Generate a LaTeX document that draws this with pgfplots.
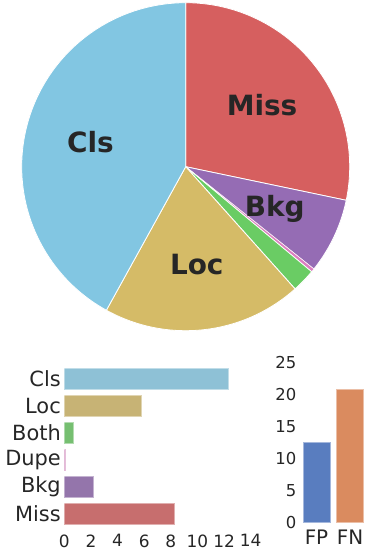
\documentclass[border=0pt]{standalone}
\usepackage{pgfplots}
\pgfplotsset{compat=1.18}
\usepackage{fontspec}
\setmainfont{DejaVu Sans}
\definecolor{txt}{HTML}{262626}
% pie colours (seaborn muted)
\definecolor{pCls}{HTML}{82C6E2}
\definecolor{pLoc}{HTML}{D5BB67}
\definecolor{pBoth}{HTML}{6ACC64}
\definecolor{pDupe}{HTML}{DC7EC0}
\definecolor{pBkg}{HTML}{956CB4}
\definecolor{pMiss}{HTML}{D65F5F}
% bar colours (desaturated)
\definecolor{bCls}{HTML}{8EC1D6}
\definecolor{bLoc}{HTML}{C7B375}
\definecolor{bBoth}{HTML}{76BF71}
\definecolor{bDupe}{HTML}{D08ABB}
\definecolor{bBkg}{HTML}{9475AB}
\definecolor{bMiss}{HTML}{C76E6E}
\definecolor{bFP}{HTML}{597DBF}
\definecolor{bFN}{HTML}{DA8B5F}
% data
\def\vCls{12.3}
\def\vLoc{5.76}
\def\vBoth{0.68}
\def\vDupe{0.1}
\def\vBkg{2.18}
\def\vMiss{8.29}
\def\vFP{12.46}
\def\vFN{20.8}
\pgfmathsetmacro\tot{\vCls+\vLoc+\vBoth+\vDupe+\vBkg+\vMiss}
\pgfmathsetmacro\aA{90}
\pgfmathsetmacro\aB{\aA-360*\vMiss/\tot}
\pgfmathsetmacro\aC{\aB-360*\vBkg/\tot}
\pgfmathsetmacro\aD{\aC-360*\vDupe/\tot}
\pgfmathsetmacro\aE{\aD-360*\vBoth/\tot}
\pgfmathsetmacro\aF{\aE-360*\vLoc/\tot}
\pgfmathsetmacro\aG{\aF-360*\vCls/\tot}
\pgfmathsetmacro\mMiss{(\aA+\aB)/2}
\pgfmathsetmacro\mBkg{(\aB+\aC)/2}
\pgfmathsetmacro\mLoc{(\aE+\aF)/2}
\pgfmathsetmacro\mCls{(\aF+\aG)/2}
\begin{document}
\begin{tikzpicture}
\path[use as bounding box] (0bp,0bp) rectangle (369bp,552bp);
% ---------------- pie ----------------
\begin{axis}[
  at={(21.7bp,221.3bp)}, anchor=south west,
  width=328bp, height=328bp, scale only axis,
  xmin=-1, xmax=1, ymin=-1, ymax=1,
  hide axis, clip=false,
]
\addplot[fill=pMiss, draw=white, line width=0.8bp, domain=\aB:\aA, samples=80] ({cos(x)},{sin(x)}) -- (0,0) -- cycle;
\addplot[fill=pBkg, draw=white, line width=0.8bp, domain=\aC:\aB, samples=40] ({cos(x)},{sin(x)}) -- (0,0) -- cycle;
\addplot[fill=pDupe, draw=white, line width=0.4bp, domain=\aD:\aC, samples=5] ({cos(x)},{sin(x)}) -- (0,0) -- cycle;
\addplot[fill=pBoth, draw=white, line width=0.8bp, domain=\aE:\aD, samples=10] ({cos(x)},{sin(x)}) -- (0,0) -- cycle;
\addplot[fill=pLoc, draw=white, line width=0.8bp, domain=\aF:\aE, samples=60] ({cos(x)},{sin(x)}) -- (0,0) -- cycle;
\addplot[fill=pCls, draw=white, line width=0.8bp, domain=\aG:\aF, samples=120] ({cos(x)},{sin(x)}) -- (0,0) -- cycle;
\tikzset{plab/.style={text=txt, font=\bfseries\fontsize{28}{30}\selectfont}}
\node[plab] at ({0.6*cos(\mMiss)},{0.6*sin(\mMiss)}) {Miss};
\node[plab] at ({0.6*cos(\mBkg)},{0.6*sin(\mBkg)}) {Bkg};
\node[plab] at ({0.6*cos(\mLoc)},{0.6*sin(\mLoc)}) {Loc};
\node[plab] at ({0.6*cos(\mCls)},{0.6*sin(\mCls)}) {Cls};
\end{axis}
% ---------------- horizontal bars ----------------
\begin{axis}[
  at={(64.3bp,24.5bp)}, anchor=south west,
  width=186.4bp, height=162bp, scale only axis,
  xmin=0, xmax=14, ymin=-0.5, ymax=5.5, y dir=reverse,
  axis line style={draw=none}, major tick length=0pt,
  xtick={0,2,...,14}, ytick={0,1,2,3,4,5},
  yticklabels={Cls,Loc,Both,Dupe,Bkg,Miss},
  /pgf/number format/assume math mode=true,
  xticklabel style={font=\fontsize{17}{20}\selectfont, text=txt, yshift=-3.5bp},
  yticklabel style={font=\fontsize{21}{24}\selectfont, text=txt},
  xbar, bar width=21bp, bar shift=0pt,
]
\addplot[fill=bCls, draw=bCls!55!white, line width=0.8bp] coordinates {(\vCls,0)};
\addplot[fill=bLoc, draw=bLoc!55!white, line width=0.8bp] coordinates {(\vLoc,1)};
\addplot[fill=bBoth, draw=bBoth!55!white, line width=0.8bp] coordinates {(\vBoth,2)};
\addplot[fill=bDupe, draw=bDupe!55!white, line width=0.8bp] coordinates {(\vDupe,3)};
\addplot[fill=bBkg, draw=bBkg!55!white, line width=0.8bp] coordinates {(\vBkg,4)};
\addplot[fill=bMiss, draw=bMiss!55!white, line width=0.8bp] coordinates {(\vMiss,5)};
\end{axis}
% ---------------- FP / FN ----------------
\begin{axis}[
  at={(299.75bp,29.3bp)}, anchor=south west,
  width=67bp, height=160.4bp, scale only axis,
  xmin=-0.5, xmax=1.5, ymin=0, ymax=25,
  axis line style={draw=none}, major tick length=0pt,
  xtick={0,1}, xticklabels={FP,FN}, ytick={0,5,...,25},
  /pgf/number format/assume math mode=true,
  xticklabel style={font=\fontsize{20}{24}\selectfont, text=txt, yshift=-4bp},
  yticklabel style={font=\fontsize{16.5}{20}\selectfont, text=txt},
  ybar, bar width=26.8bp, bar shift=0pt,
]
\addplot[fill=bFP, draw=bFP!55!white, line width=0.8bp] coordinates {(0,\vFP)};
\addplot[fill=bFN, draw=bFN!55!white, line width=0.8bp] coordinates {(1,\vFN)};
\end{axis}
\end{tikzpicture}
\end{document}
